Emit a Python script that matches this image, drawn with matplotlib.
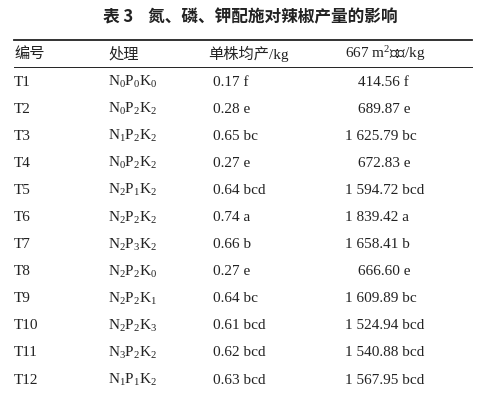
import matplotlib.pyplot as plt

plt.rcParams['font.family'] = ['Liberation Serif', 'Noto Sans CJK SC']
plt.rcParams['mathtext.fontset'] = 'custom'
plt.rcParams['mathtext.rm'] = 'Liberation Serif'
plt.rcParams['mathtext.it'] = 'Liberation Serif'

title = "表 3    氮、磷、钾配施对辣椒产量的影响"
headers = ["编号", "处理", "单株均产/kg", "667 m$^2$产量/kg"]
codes = ["T1", "T2", "T3", "T4", "T5", "T6", "T7", "T8", "T9", "T10", "T11", "T12"]
treatments = ["000", "022", "122", "022", "212", "222", "232", "220", "221", "223", "322", "112"]
per_plant = ["0.17 f", "0.28 e", "0.65 bc", "0.27 e", "0.64 bcd", "0.74 a", "0.66 b",
             "0.27 e", "0.64 bc", "0.61 bcd", "0.62 bcd", "0.63 bcd"]
per_area = ["414.56 f", "689.87 e", "1 625.79 bc", "672.83 e", "1 594.72 bcd", "1 839.42 a",
            "1 658.41 b", "666.60 e", "1 609.89 bc", "1 524.94 bcd", "1 540.88 bcd", "1 567.95 bcd"]

W, H = 500, 401
fig = plt.figure(figsize=(W / 100, H / 100), dpi=100)

def px(x, y):
    return x / W, 1 - y / H

def txt(x, y, s, size=11, **kw):
    fig.text(*px(x, y), s, va='center', fontsize=size, color='#222222', **kw)

txt(250, 17, title, size=12, ha='center', fontweight='bold',
    family=['Noto Sans CJK SC', 'Liberation Serif'])

for y, lw in [(40, 1.3), (67, 0.7)]:
    fig.add_artist(plt.Line2D([14 / W, 472 / W], [1 - y / H] * 2, color='#222222', lw=lw))

txt(14, 54, headers[0])
txt(108, 54, headers[1])
txt(248, 54, headers[2], ha='center')
txt(385, 54, headers[3], ha='center')

for i, code in enumerate(codes):
    y = 82 + i * 27.1
    n, p, k = treatments[i]
    txt(14, y, code)
    txt(108, y, f"N$_{n}$P$_{p}$K$_{k}$")
    txt(213, y, per_plant[i])
    x4 = 345 if per_area[i].startswith("1 ") else 358
    txt(x4, y, per_area[i])

fig.savefig("out.png", dpi=100, facecolor='white')
